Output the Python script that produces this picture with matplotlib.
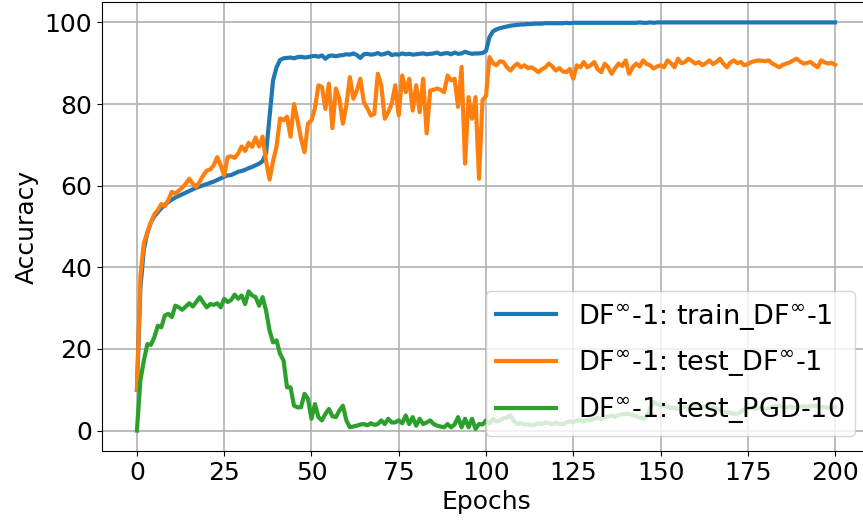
import matplotlib
matplotlib.use('Agg')
import matplotlib.pyplot as plt
import numpy as np

# accuracy per epoch, epochs 0..200
epochs = np.arange(201)

train_df = [
    10.0, 35.0, 44.5, 48.5, 51.0, 52.5, 53.5, 54.5, 55.3, 56.0,
    56.6, 57.1, 57.5, 57.9, 58.3, 58.7, 59.1, 59.5, 59.8, 60.1,
    60.4, 60.7, 61.0, 61.4, 61.8, 62.2, 62.5, 62.6, 63.0, 63.4,
    63.6, 63.9, 64.3, 64.6, 65.0, 65.4, 66.0, 68.0, 77.0, 85.8,
    89.0, 90.8, 91.2, 91.3, 91.4, 91.2, 91.5, 91.6, 91.4, 91.5,
    91.7, 91.8, 91.6, 91.9, 91.1, 91.8, 91.9, 91.7, 91.9, 92.0,
    92.2, 92.1, 92.4, 92.0, 91.3, 92.2, 92.3, 92.1, 92.2, 92.5,
    92.1, 92.3, 92.6, 92.0, 92.2, 92.1, 92.4, 92.2, 92.3, 92.1,
    92.2, 92.3, 92.4, 92.2, 92.3, 92.4, 92.6, 92.2, 92.4, 92.5,
    92.2, 92.6, 92.3, 92.4, 92.8, 92.5, 92.3, 92.4, 92.4, 92.5,
    93.0, 96.4, 97.8, 98.3, 98.6, 98.8, 99.0, 99.2, 99.3, 99.4,
    99.5, 99.5, 99.6, 99.6, 99.7, 99.7, 99.7, 99.8, 99.8, 99.8,
    99.8, 99.8, 99.8, 99.9, 99.8, 99.9, 99.9, 99.9, 99.9, 99.9,
    99.9, 99.9, 99.9, 99.9, 99.9, 99.9, 99.9, 99.9, 99.9, 99.9,
    99.9, 99.9, 99.9, 99.9, 100.0, 99.9, 99.9, 100.0, 99.9, 100.0,
    100.0, 100.0, 100.0, 100.0, 100.0, 100.0, 100.0, 100.0, 100.0, 100.0,
    100.0, 100.0, 100.0, 100.0, 100.0, 100.0, 100.0, 100.0, 100.0, 100.0,
    100.0, 100.0, 100.0, 100.0, 100.0, 100.0, 100.0, 100.0, 100.0, 100.0,
    100.0, 100.0, 100.0, 100.0, 100.0, 100.0, 100.0, 100.0, 100.0, 100.0,
    100.0, 100.0, 100.0, 100.0, 100.0, 100.0, 100.0, 100.0, 100.0, 100.0,
    100.0,
]

test_df = [
    10.0, 38.0, 46.0, 48.5, 51.0, 53.0, 54.0, 55.5, 55.0, 56.5,
    58.5, 58.0, 58.8, 59.5, 60.5, 61.7, 60.5, 59.7, 61.0, 62.5,
    63.7, 64.0, 65.0, 67.0, 65.0, 62.5, 67.0, 67.2, 66.8, 67.9,
    69.6, 68.5, 70.5, 69.5, 71.8, 69.6, 72.0, 66.0, 61.5, 66.0,
    69.6, 76.5, 76.0, 76.9, 72.0, 80.0, 76.0, 71.6, 68.2, 75.2,
    76.0, 79.0, 84.6, 84.2, 78.8, 85.0, 74.1, 83.8, 81.3, 75.2,
    79.7, 86.6, 81.3, 83.3, 86.2, 80.5, 79.0, 77.2, 77.6, 87.4,
    84.6, 76.4, 78.0, 80.1, 84.6, 77.2, 87.0, 82.9, 86.2, 78.4,
    84.6, 78.0, 86.2, 72.8, 83.3, 83.5, 83.8, 83.5, 82.9, 87.0,
    85.8, 86.2, 79.3, 89.1, 65.4, 81.7, 76.4, 81.7, 61.7, 80.9,
    82.0, 91.5, 90.0, 89.5, 90.5, 90.3, 89.0, 88.2, 89.2, 89.9,
    89.0, 89.5, 88.8, 89.0, 88.5, 87.8, 88.5, 89.0, 89.9, 89.2,
    88.2, 88.8, 88.0, 87.8, 88.6, 86.2, 89.5, 89.0, 90.3, 89.0,
    89.5, 90.3, 88.5, 87.8, 89.9, 89.0, 87.4, 88.8, 89.9, 89.3,
    90.7, 87.4, 89.0, 89.9, 89.2, 90.7, 89.8, 89.5, 88.7, 89.2,
    89.5, 89.0, 90.7, 90.0, 89.0, 91.1, 90.0, 90.3, 91.1, 90.5,
    89.9, 90.3, 89.5, 90.0, 90.7, 89.8, 90.3, 91.1, 89.9, 89.0,
    90.2, 90.7, 90.0, 90.3, 89.5, 89.8, 90.3, 90.5, 90.7, 90.6,
    90.5, 90.7, 89.9, 89.5, 89.0, 89.6, 89.9, 90.2, 90.7, 91.1,
    90.4, 89.9, 90.1, 90.3, 89.6, 89.0, 90.7, 90.2, 89.9, 90.1,
    89.6,
]

test_pgd = [
    0.0, 12.3, 17.2, 21.2, 21.0, 22.9, 25.7, 25.3, 28.2, 28.6,
    27.8, 30.6, 30.2, 29.6, 30.4, 31.2, 30.4, 31.5, 32.7, 31.4,
    30.2, 31.0, 30.8, 31.2, 30.2, 32.3, 31.5, 32.0, 33.3, 32.3,
    33.1, 31.0, 34.1, 33.1, 32.7, 30.6, 32.7, 29.4, 24.5, 21.6,
    22.1, 18.8, 17.2, 10.6, 10.6, 6.1, 5.7, 5.7, 9.0, 7.8,
    2.9, 6.5, 3.3, 2.5, 4.1, 5.3, 3.5, 3.3, 4.9, 6.1,
    2.5, 0.8, 1.0, 1.2, 1.5, 1.6, 1.3, 1.8, 1.4, 1.6,
    2.5, 1.6, 2.9, 2.0, 2.0, 2.5, 1.8, 3.7, 1.6, 3.3,
    1.2, 2.9, 1.6, 2.0, 2.5, 1.6, 1.2, 1.0, 0.8, 1.6,
    0.8, 1.5, 3.3, 0.8, 2.9, 0.8, 2.9, 0.4, 1.6, 1.5,
    2.5, 1.7, 2.9, 2.2, 2.5, 3.0, 3.2, 3.7, 2.3, 1.6,
    1.8, 1.5, 1.6, 1.3, 1.4, 1.8, 1.6, 2.0, 1.8, 1.5,
    1.9, 1.6, 1.6, 2.0, 2.3, 2.1, 2.5, 2.5, 2.2, 2.7,
    2.6, 2.9, 3.1, 2.8, 3.2, 3.5, 3.7, 3.4, 3.8, 4.0,
    4.1, 4.1, 3.8, 3.5, 3.2, 2.9, 3.5, 5.5, 7.0, 6.5,
    6.1, 6.1, 5.8, 5.5, 5.6, 5.3, 5.5, 5.7, 5.9, 6.0,
    6.1, 5.8, 5.7, 5.9, 5.6, 5.7, 5.4, 5.0, 4.6, 4.5,
    4.3, 4.1, 4.1, 4.6, 5.2, 5.7, 5.5, 5.4, 5.6, 5.3,
    5.3, 5.5, 5.8, 6.0, 6.1, 5.8, 5.6, 5.9, 5.7, 5.7,
    5.9, 6.0, 5.8, 6.1, 6.1, 5.9, 5.7, 5.8, 5.6, 5.7,
    5.7,
]

labels = [
    r'DF$^{\infty}$-1: train_DF$^{\infty}$-1',
    r'DF$^{\infty}$-1: test_DF$^{\infty}$-1',
    r'DF$^{\infty}$-1: test_PGD-10',
]

plt.rcParams['font.family'] = ['DejaVu Sans']
plt.rcParams['mathtext.fontset'] = 'dejavusans'

fig = plt.figure(figsize=(8.63, 5.22), dpi=100)
# axes run slightly past the right edge of the canvas
ax = fig.add_axes([102 / 863, 71 / 522, 768 / 863, 449 / 522])

for ys, lab in zip([train_df, test_df, test_pgd], labels):
    ax.plot(epochs, ys, linewidth=3, label=lab)

ax.set_xlim(-10, 210)
ax.set_ylim(-5, 105)
ax.set_xticks([0, 25, 50, 75, 100, 125, 150, 175, 200])
ax.set_yticks([0, 20, 40, 60, 80, 100])
ax.tick_params(labelsize=18)
ax.grid(True, linewidth=1.2)
ax.set_xlabel('Epochs', fontsize=18)
ax.set_ylabel('Accuracy', fontsize=18)

ax.legend(loc='lower right', bbox_to_anchor=(0.9805, 0.0334), borderaxespad=0,
          fontsize=19.5, framealpha=0.8, labelspacing=0.62, handlelength=2.2)

fig.savefig('out.png', dpi=100)
plt.close(fig)
